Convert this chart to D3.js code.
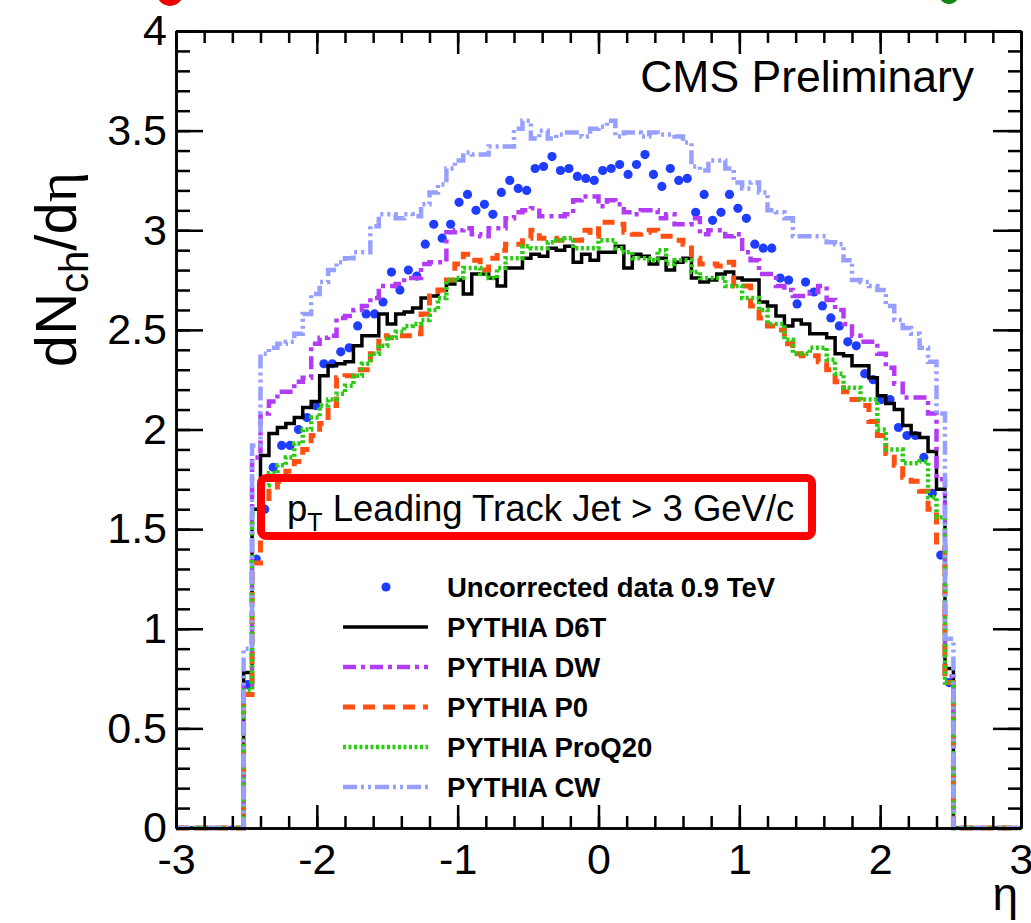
<!DOCTYPE html>
<html>
<head>
<meta charset="utf-8">
<script src="https://cdn.jsdelivr.net/npm/d3@7"></script>
<style>
  html, body { margin: 0; padding: 0; background: #fff; }
  svg { display: block; }
  text { font-family: "Liberation Sans", Arial, Helvetica, sans-serif; }
</style>
</head>
<body>
<svg id="chart" width="1031" height="923"></svg>
<script>
// ---------------- data ----------------
const binStart = -2.52;   // first filled bin lower edge
const binWidth = 0.06;

const xTickValues = [-3, -2, -1, 0, 1, 2, 3];
const xTickLabels = ["-3", "-2", "-1", "0", "1", "2", "3"];
const yTickValues = [0, 0.5, 1, 1.5, 2, 2.5, 3, 3.5, 4];
const yTickLabels = ["0", "0.5", "1", "1.5", "2", "2.5", "3", "3.5", "4"];

const seriesNames = ["Uncorrected data 0.9 TeV", "PYTHIA D6T", "PYTHIA DW", "PYTHIA P0", "PYTHIA ProQ20", "PYTHIA CW"];

const dataVals = [
  0.72, 1.35, 1.60, 1.81, 1.92, 1.92, 2.00, 2.06, 2.12, 2.33,
  2.33, 2.39, 2.41, 2.52, 2.58, 2.58, 2.64, 2.79, 2.70, 2.80,
  2.77, 2.93, 3.03, 2.96, 3.03, 3.14, 3.18, 3.10, 3.13, 3.08,
  3.19, 3.25, 3.21, 3.20, 3.31, 3.32, 3.37, 3.30, 3.31, 3.27,
  3.26, 3.25, 3.30, 3.31, 3.33, 3.28, 3.33, 3.38, 3.28, 3.22,
  3.31, 3.25, 3.26, 3.09, 3.18, 3.05, 3.09, 3.18, 3.11, 3.06,
  2.93, 2.91, 2.91, 2.76, 2.75, 2.63, 2.74, 2.69, 2.62, 2.56,
  2.52, 2.44, 2.42, 2.28, 2.25, 2.15, 2.15, 2.01, 1.97, 1.97,
  1.86, 1.68, 1.37, 0.73
];
const d6tVals = [
  0.78, 1.60, 1.87, 1.98, 2.01, 2.03, 2.06, 2.11, 2.14, 2.27,
  2.32, 2.33, 2.34, 2.42, 2.47, 2.47, 2.58, 2.53, 2.58, 2.59,
  2.61, 2.66, 2.67, 2.70, 2.73, 2.75, 2.68, 2.78, 2.78, 2.76,
  2.72, 2.81, 2.81, 2.86, 2.88, 2.87, 2.91, 2.90, 2.92, 2.84,
  2.88, 2.85, 2.89, 2.89, 2.92, 2.81, 2.88, 2.87, 2.83, 2.86,
  2.80, 2.84, 2.86, 2.76, 2.74, 2.75, 2.78, 2.79, 2.76, 2.75,
  2.75, 2.64, 2.62, 2.57, 2.52, 2.55, 2.53, 2.48, 2.48, 2.46,
  2.38, 2.37, 2.32, 2.32, 2.26, 2.17, 2.13, 2.10, 2.02, 1.98,
  1.96, 1.89, 1.70, 0.80
];
const dwVals = [
  0.71, 1.86, 2.08, 2.14, 2.19, 2.19, 2.24, 2.26, 2.43, 2.46,
  2.47, 2.56, 2.57, 2.60, 2.62, 2.66, 2.72, 2.72, 2.73, 2.76,
  2.76, 2.83, 2.84, 2.84, 2.99, 3.00, 3.01, 2.98, 2.97, 3.01,
  3.01, 3.06, 3.09, 3.10, 3.11, 3.07, 3.07, 3.07, 3.08, 3.15,
  3.17, 3.17, 3.12, 3.15, 3.13, 3.09, 3.08, 3.10, 3.10, 3.06,
  3.08, 3.03, 3.03, 3.06, 2.98, 3.00, 3.00, 2.97, 2.98, 2.89,
  2.85, 2.78, 2.78, 2.72, 2.70, 2.67, 2.67, 2.69, 2.72, 2.65,
  2.60, 2.53, 2.47, 2.44, 2.44, 2.38, 2.31, 2.23, 2.16, 2.16,
  2.16, 2.08, 1.75, 0.76
];
const p0Vals = [
  0.67, 1.33, 1.62, 1.69, 1.74, 1.79, 1.84, 1.90, 1.97, 2.03,
  2.12, 2.26, 2.27, 2.30, 2.30, 2.38, 2.47, 2.46, 2.47, 2.47,
  2.48, 2.58, 2.67, 2.70, 2.75, 2.83, 2.88, 2.85, 2.80, 2.86,
  2.90, 2.93, 2.93, 2.96, 3.00, 2.96, 2.96, 2.95, 2.95, 2.95,
  3.00, 2.97, 3.04, 3.04, 3.03, 2.99, 2.98, 2.99, 3.00, 2.97,
  2.97, 2.95, 2.93, 2.86, 2.83, 2.83, 2.82, 2.84, 2.72, 2.72,
  2.62, 2.56, 2.52, 2.50, 2.43, 2.38, 2.37, 2.37, 2.34, 2.30,
  2.24, 2.19, 2.15, 2.12, 2.04, 1.97, 1.88, 1.82, 1.76, 1.74,
  1.69, 1.60, 1.42, 0.73
];
const proq20Vals = [
  0.69, 1.58, 1.72, 1.78, 1.82, 1.86, 1.93, 2.00, 2.06, 2.12,
  2.15, 2.18, 2.22, 2.27, 2.33, 2.38, 2.42, 2.46, 2.49, 2.52,
  2.53, 2.55, 2.60, 2.66, 2.75, 2.76, 2.81, 2.81, 2.78, 2.76,
  2.81, 2.86, 2.86, 2.92, 2.91, 2.91, 2.94, 2.95, 2.96, 2.91,
  2.91, 2.91, 2.95, 2.95, 2.91, 2.89, 2.86, 2.86, 2.85, 2.90,
  2.83, 2.85, 2.85, 2.79, 2.76, 2.76, 2.76, 2.72, 2.72, 2.66,
  2.66, 2.60, 2.53, 2.53, 2.45, 2.38, 2.38, 2.41, 2.41, 2.35,
  2.28, 2.21, 2.21, 2.15, 2.15, 2.00, 1.90, 1.90, 1.83, 1.83,
  1.84, 1.66, 1.56, 0.73
];
const cwVals = [
  0.90, 1.92, 2.38, 2.41, 2.43, 2.44, 2.48, 2.58, 2.68, 2.74,
  2.80, 2.84, 2.86, 2.89, 2.89, 3.02, 3.08, 3.08, 3.06, 3.08,
  3.07, 3.13, 3.19, 3.23, 3.31, 3.35, 3.39, 3.38, 3.38, 3.42,
  3.42, 3.42, 3.51, 3.55, 3.46, 3.50, 3.46, 3.48, 3.49, 3.49,
  3.47, 3.51, 3.52, 3.55, 3.47, 3.49, 3.49, 3.47, 3.49, 3.48,
  3.48, 3.47, 3.44, 3.32, 3.30, 3.35, 3.35, 3.31, 3.24, 3.21,
  3.24, 3.19, 3.10, 3.09, 3.06, 2.97, 2.97, 2.97, 2.97, 2.94,
  2.93, 2.85, 2.75, 2.74, 2.72, 2.70, 2.62, 2.55, 2.51, 2.48,
  2.41, 2.34, 2.08, 0.95
];

// ---------------- layout ----------------
const svg = d3.select("#chart");
const L = 176, R = 1021, T = 31, B = 828;
const x = d3.scaleLinear().domain([-3, 3]).range([L, R]);
const y = d3.scaleLinear().domain([0, 4]).range([B, T]);

// decorative cut-off blobs at top edge
svg.append("ellipse").attr("cx", 170).attr("cy", -9).attr("rx", 14).attr("ry", 15).attr("fill", "#ee0000");
svg.append("ellipse").attr("cx", 949).attr("cy", -11).attr("rx", 12).attr("ry", 15).attr("fill", "#118811");

// ---------------- histograms ----------------
function stepPoints(vals) {
  const pts = [[x.domain()[0], 0], [binStart, 0]];
  vals.forEach((v, i) => {
    const lo = binStart + i * binWidth, hi = lo + binWidth;
    pts.push([lo, v]); pts.push([hi, v]);
  });
  const end = binStart + vals.length * binWidth;
  pts.push([end, 0]); pts.push([x.domain()[1], 0]);
  return pts;
}
const line = d3.line().x(d => x(d[0])).y(d => y(d[1]));

const plot = svg.append("g");

// data markers
plot.append("g").selectAll("circle").data(dataVals).join("circle")
  .attr("cx", (d, i) => x(binStart + (i + 0.5) * binWidth))
  .attr("cy", d => y(d))
  .attr("r", 4.6)
  .attr("fill", "#1f3dff");

const histSpecs = [
  { vals: d6tVals, color: "#000000", width: 3.5, dash: null },
  { vals: dwVals, color: "#b23cf5", width: 4.5, dash: "13,5,4,5" },
  { vals: p0Vals, color: "#ff5014", width: 5, dash: "12,8" },
  { vals: proq20Vals, color: "#2ccb14", width: 4.5, dash: "3,2.5" },
  { vals: cwVals, color: "#98a0ff", width: 4.5, dash: "14,4,3,4,3,4" }
];
histSpecs.forEach(s => {
  plot.append("path")
    .attr("d", line(stepPoints(s.vals)))
    .attr("fill", "none")
    .attr("stroke", s.color)
    .attr("stroke-width", s.width)
    .attr("stroke-dasharray", s.dash)
    .attr("stroke-linejoin", "miter");
});

// ---------------- axes ----------------
const xMinor = d3.range(-3, 3.0001, 0.2).map(v => +v.toFixed(2));
const yMinor = d3.range(0, 4.0001, 0.1).map(v => +v.toFixed(2));

const axisStyle = g => {
  g.selectAll("path.domain").attr("stroke", "#000").attr("stroke-width", 2.5);
  g.selectAll(".tick line").attr("stroke", "#000").attr("stroke-width", 2.5);
  g.selectAll("text").attr("font-family", "Liberation Sans, Arial, sans-serif").attr("font-size", 43).attr("fill", "#000");
};

// bottom
svg.append("g").attr("transform", `translate(0,${B})`)
  .call(d3.axisBottom(x).tickValues(xMinor).tickSize(-12).tickFormat("").tickSizeOuter(0))
  .call(axisStyle);
svg.append("g").attr("transform", `translate(0,${B})`)
  .call(d3.axisBottom(x).tickValues(xTickValues).tickSize(-23).tickPadding(10).tickSizeOuter(0)
    .tickFormat((d, i) => xTickLabels[i]))
  .call(axisStyle)
  .call(g => g.selectAll("text").attr("dy", "0.83em"));
// top
svg.append("g").attr("transform", `translate(0,${T})`)
  .call(d3.axisTop(x).tickValues(xMinor).tickSize(-12).tickFormat("").tickSizeOuter(0))
  .call(axisStyle);
svg.append("g").attr("transform", `translate(0,${T})`)
  .call(d3.axisTop(x).tickValues(xTickValues).tickSize(-23).tickFormat("").tickSizeOuter(0))
  .call(axisStyle);
// left
svg.append("g").attr("transform", `translate(${L},0)`)
  .call(d3.axisLeft(y).tickValues(yMinor).tickSize(-14).tickFormat("").tickSizeOuter(0))
  .call(axisStyle);
svg.append("g").attr("transform", `translate(${L},0)`)
  .call(d3.axisLeft(y).tickValues(yTickValues).tickSize(-27).tickPadding(9).tickSizeOuter(0)
    .tickFormat((d, i) => yTickLabels[i]))
  .call(axisStyle);
// right
svg.append("g").attr("transform", `translate(${R},0)`)
  .call(d3.axisRight(y).tickValues(yMinor).tickSize(-13).tickFormat("").tickSizeOuter(0))
  .call(axisStyle);
svg.append("g").attr("transform", `translate(${R},0)`)
  .call(d3.axisRight(y).tickValues(yTickValues).tickSize(-28).tickFormat("").tickSizeOuter(0))
  .call(axisStyle);

// axis titles
svg.append("text").attr("x", 1018).attr("y", 910).attr("text-anchor", "end")
  .attr("font-family", "Liberation Serif, Times New Roman, serif").attr("font-size", 46).text("η");

const yt = svg.append("text").attr("transform", "translate(76,172) rotate(-90)")
  .attr("text-anchor", "end").attr("font-size", 58);
yt.append("tspan").text("dN");
yt.append("tspan").attr("font-size", 40).attr("dy", 12).text("ch");
yt.append("tspan").attr("dy", -12).text("/d");
yt.append("tspan").attr("font-family", "Liberation Serif, Times New Roman, serif").text("η");

// CMS Preliminary
svg.append("text").attr("x", 974).attr("y", 92).attr("text-anchor", "end")
  .attr("font-size", 44.5).text("CMS Preliminary");

// red box with label
svg.append("rect").attr("x", 261).attr("y", 478).attr("width", 551).attr("height", 58)
  .attr("rx", 5).attr("fill", "none").attr("stroke", "#ff0000").attr("stroke-width", 8);
const bt = svg.append("text").attr("x", 287).attr("y", 521).attr("font-size", 36.5);
bt.append("tspan").text("p");
bt.append("tspan").attr("font-size", 25).attr("dy", 10).text("T");
bt.append("tspan").attr("dy", -10).text(" Leading Track Jet > 3 GeV/c");

// ---------------- legend ----------------
const legY = [587, 627, 667, 707, 747, 787];
const lg = svg.append("g");
lg.append("circle").attr("cx", 386).attr("cy", legY[0]).attr("r", 4.6).attr("fill", "#1f3dff");
histSpecs.forEach((s, i) => {
  lg.append("line").attr("x1", 343).attr("x2", 428).attr("y1", legY[i + 1]).attr("y2", legY[i + 1])
    .attr("stroke", s.color).attr("stroke-width", s.width).attr("stroke-dasharray", s.dash);
});
seriesNames.forEach((n, i) => {
  lg.append("text").attr("x", 447).attr("y", legY[i] + 10).attr("font-size", 27.5)
    .attr("font-weight", "bold").text(n);
});
</script>
</body>
</html>
